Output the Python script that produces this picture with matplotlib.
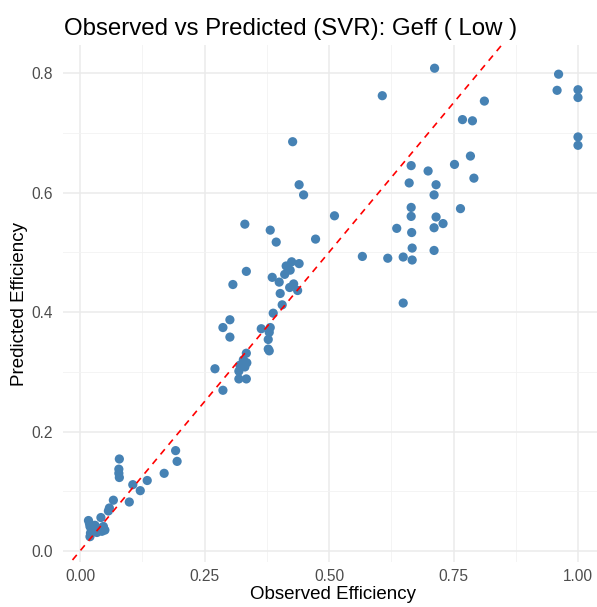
import matplotlib
matplotlib.use("Agg")
import matplotlib.pyplot as plt
from matplotlib.ticker import FixedLocator

plt.rcParams['font.family'] = ['Liberation Sans', 'DejaVu Sans']

observed = [0.017, 0.019, 0.020, 0.023, 0.027, 0.021, 0.020, 0.034, 0.037, 0.030,
            0.042, 0.047, 0.050, 0.044, 0.057, 0.059, 0.067,
            0.079, 0.078, 0.078, 0.079, 0.099, 0.106, 0.121, 0.135, 0.169, 0.192, 0.195,
            0.271, 0.287, 0.287, 0.301, 0.301, 0.307, 0.319, 0.319, 0.321, 0.328,
            0.331, 0.334, 0.335, 0.334, 0.331, 0.334, 0.364, 0.378, 0.378, 0.380,
            0.380, 0.382, 0.382, 0.386, 0.388, 0.394, 0.400, 0.402, 0.406, 0.411,
            0.414, 0.421, 0.422, 0.425, 0.429, 0.437, 0.440, 0.427, 0.440, 0.449,
            0.473, 0.511,
            0.567, 0.607, 0.618, 0.636, 0.649, 0.649, 0.661, 0.665, 0.665, 0.665,
            0.666, 0.667, 0.667, 0.699, 0.711, 0.711, 0.711, 0.712, 0.715, 0.715,
            0.729, 0.752, 0.764, 0.768, 0.784, 0.788, 0.791, 0.812, 0.958, 0.961,
            1.0, 1.0, 1.0, 1.0]
predicted = [0.051, 0.046, 0.041, 0.036, 0.034, 0.030, 0.024, 0.031, 0.038, 0.043,
             0.056, 0.041, 0.035, 0.033, 0.067, 0.072, 0.085,
             0.154, 0.137, 0.130, 0.123, 0.082, 0.111, 0.101, 0.118, 0.130, 0.168, 0.150,
             0.305, 0.269, 0.374, 0.387, 0.358, 0.446, 0.301, 0.288, 0.311, 0.320,
             0.308, 0.331, 0.315, 0.288, 0.547, 0.468, 0.372, 0.354, 0.338, 0.335,
             0.366, 0.374, 0.537, 0.458, 0.398, 0.517, 0.450, 0.431, 0.412, 0.463,
             0.477, 0.441, 0.470, 0.484, 0.447, 0.436, 0.481, 0.685, 0.613, 0.596,
             0.522, 0.561,
             0.493, 0.762, 0.490, 0.540, 0.492, 0.415, 0.616, 0.645, 0.575, 0.560,
             0.533, 0.507, 0.487, 0.636, 0.596, 0.541, 0.503, 0.808, 0.613, 0.559,
             0.548, 0.647, 0.573, 0.722, 0.661, 0.720, 0.624, 0.753, 0.771, 0.798,
             0.772, 0.759, 0.693, 0.679]

x_ticks = [0.00, 0.25, 0.50, 0.75, 1.00]
x_tick_labels = ["0.00", "0.25", "0.50", "0.75", "1.00"]
y_ticks = [0.0, 0.2, 0.4, 0.6, 0.8]
y_tick_labels = ["0.0", "0.2", "0.4", "0.6", "0.8"]

W, H = 597, 607
fig = plt.figure(figsize=(W / 100, H / 100), dpi=100)

xlim = (-0.034, 1.049)
ylim = (-0.019, 0.847)
left_px = 80 + xlim[0] * 498
right_px = 80 + xlim[1] * 498
bottom_px = 551 - ylim[0] * 597.5
top_px = 551 - ylim[1] * 597.5
ax = fig.add_axes([left_px / W, 1 - bottom_px / H,
                   (right_px - left_px) / W, (bottom_px - top_px) / H])
ax.set_xlim(*xlim)
ax.set_ylim(*ylim)

for s in ax.spines.values():
    s.set_visible(False)

ax.xaxis.set_major_locator(FixedLocator(x_ticks))
ax.yaxis.set_major_locator(FixedLocator(y_ticks))
ax.set_xticklabels(x_tick_labels)
ax.set_yticklabels(y_tick_labels)
xminor = [(a + b) / 2 for a, b in zip(x_ticks[:-1], x_ticks[1:])]
yminor = [(a + b) / 2 for a, b in zip(y_ticks[:-1], y_ticks[1:])]
ax.xaxis.set_minor_locator(FixedLocator(xminor))
ax.yaxis.set_minor_locator(FixedLocator(yminor))
ax.grid(which='major', color='#EBEBEB', linewidth=1.1)
ax.grid(which='minor', color='#F2F2F2', linewidth=0.6)
ax.set_axisbelow(True)
ax.tick_params(which='both', length=0)
ax.tick_params(axis='x', pad=5, labelsize=11.2, labelcolor='#4D4D4D')
ax.tick_params(axis='y', pad=7, labelsize=11.2, labelcolor='#4D4D4D')

ax.scatter(observed, predicted, s=44, color='#4682B4', edgecolors='none', zorder=3)
ax.plot([-0.1, 1.1], [-0.1, 1.1], color='red', linestyle=(0, (4, 3.5)), linewidth=1.2, zorder=4)

ax.set_xlabel("Observed Efficiency", fontsize=13.5, labelpad=1)
ax.set_ylabel("Predicted Efficiency", fontsize=13.5, labelpad=3)
fig.text(left_px / W + 0.002, 1 - 35 / H, "Observed vs Predicted (SVR): Geff ( Low )",
         fontsize=17.3, ha='left', va='baseline')

fig.savefig("out.png", dpi=100)
